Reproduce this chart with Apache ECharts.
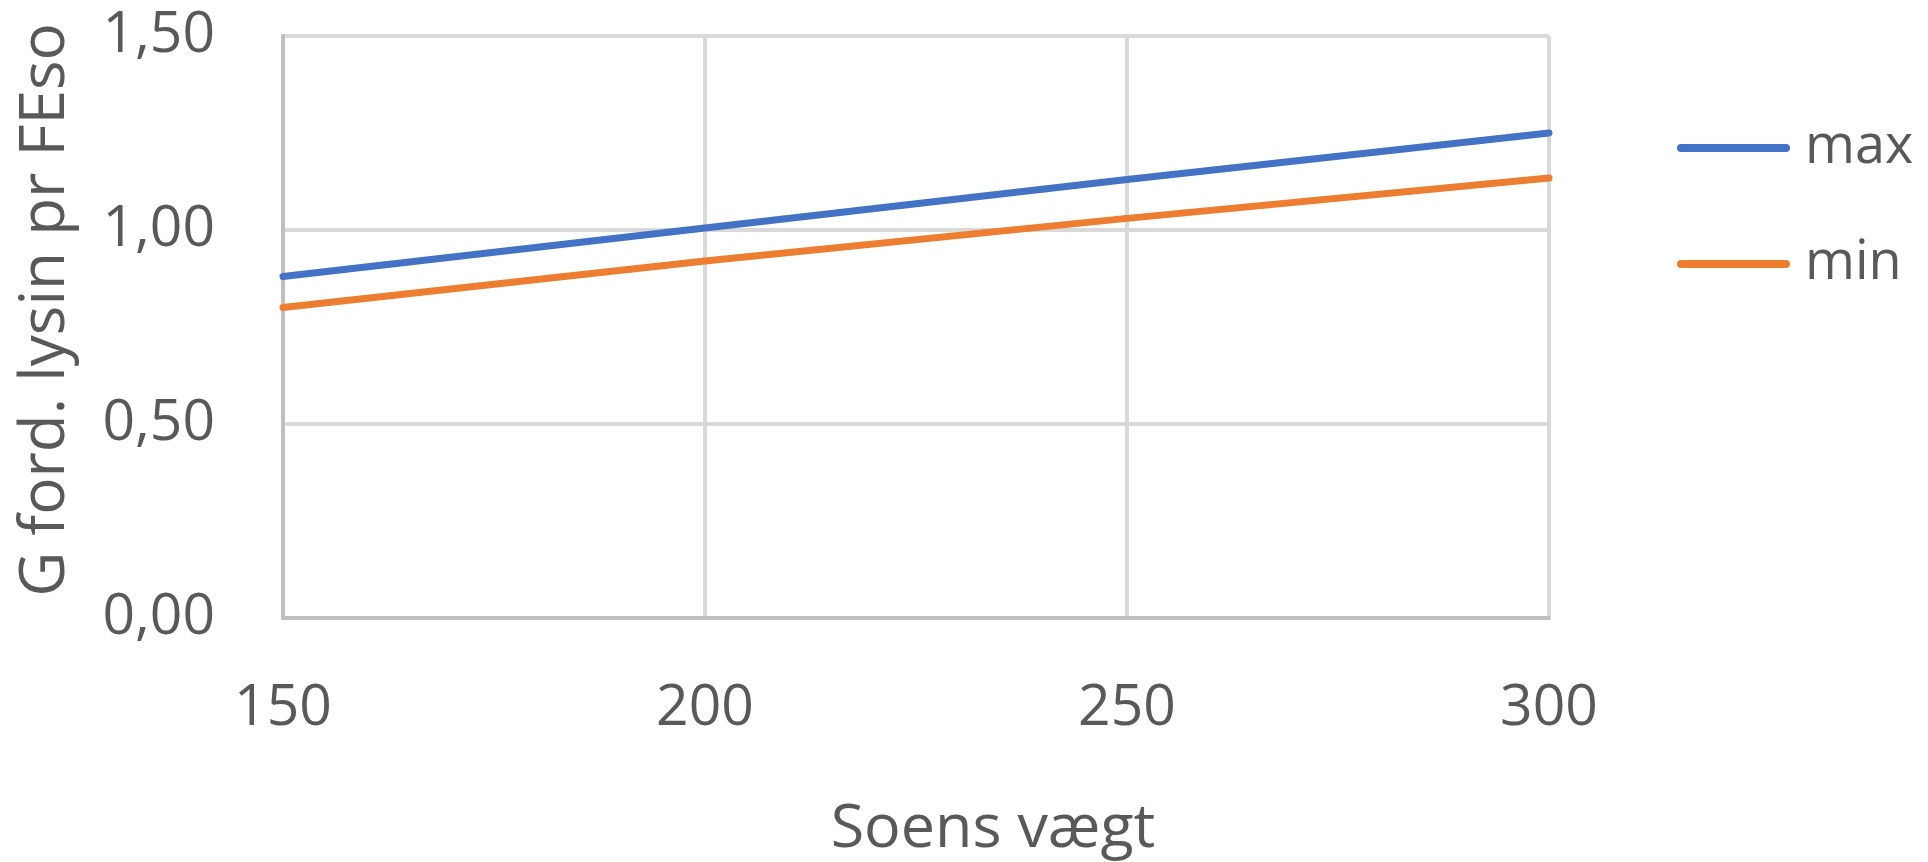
<!DOCTYPE html>
<html>
<head>
<meta charset="utf-8">
<script src="https://cdn.jsdelivr.net/npm/echarts@6/dist/echarts.min.js"></script>
<style>
  html, body { margin: 0; padding: 0; background: #ffffff; }
  #chart { width: 1928px; height: 862px; }
</style>
</head>
<body>
<div id="chart"></div>
<script>
// Sow weight (kg) on the x axis
const weights = [150, 200, 250, 300];
// Grams digestible lysine per feed unit
const maxValues = [0.88, 1.005, 1.13, 1.25];
const minValues = [0.80, 0.92, 1.03, 1.134];
const seriesNames = ['max', 'min'];
const xTicks = { min: 150, max: 300, step: 50 };
const yTicks = { min: 0, max: 1.5, step: 0.5 };
const xAxisTitle = 'Soens vægt';
const yAxisTitle = 'G ford. lysin pr FEso';

const FONT = '"Open Sans", "DejaVu Sans", sans-serif';
const TEXT = '#595959';

const pairs = vals => weights.map((w, i) => [w, vals[i]]);

const chart = echarts.init(document.getElementById('chart'));
chart.setOption({
  backgroundColor: '#ffffff',
  animation: false,
  textStyle: { fontFamily: FONT },
  title: {
    text: xAxisTitle,
    left: 988,
    top: 794,
    textAlign: 'center',
    textStyle: { fontFamily: FONT, fontSize: 61, fontWeight: 'normal', color: TEXT }
  },
  grid: { left: 283, right: 379, top: 36, bottom: 244, containLabel: false },
  legend: {
    orient: 'vertical',
    left: 1672,
    top: 113,
    itemWidth: 113,
    itemHeight: 8,
    itemGap: 56,
    icon: 'path://M4,0 H109 A4,4 0 0 1 109,8 H4 A4,4 0 0 1 4,0 Z',
    textStyle: { fontFamily: FONT, fontSize: 54, color: TEXT, lineHeight: 60, padding: [0, 0, 0, 10] },
    data: seriesNames
  },
  xAxis: {
    type: 'value',
    min: xTicks.min,
    max: xTicks.max,
    interval: xTicks.step,
    axisLine: { show: true, lineStyle: { color: '#bfbfbf', width: 4 } },
    axisTick: { show: false },
    axisLabel: { fontFamily: FONT, fontSize: 57, color: TEXT, margin: 62 },
    splitLine: { show: true, lineStyle: { color: '#d9d9d9', width: 4 } }
  },
  yAxis: {
    type: 'value',
    min: yTicks.min,
    max: yTicks.max,
    interval: yTicks.step,
    name: yAxisTitle,
    nameLocation: 'middle',
    nameGap: 206,
    nameTextStyle: { fontFamily: FONT, fontSize: 62, color: TEXT, padding: [0, 0, 0, 34] },
    axisLine: { show: true, lineStyle: { color: '#bfbfbf', width: 4 } },
    axisTick: { show: false },
    axisLabel: {
      fontFamily: FONT, fontSize: 57, color: TEXT, margin: 68,
      formatter: v => v.toFixed(2).replace('.', ',')
    },
    splitLine: { show: true, lineStyle: { color: '#d9d9d9', width: 4 } }
  },
  series: [
    {
      name: seriesNames[0],
      type: 'line',
      data: pairs(maxValues),
      showSymbol: false,
      symbol: 'none',
      color: '#4472c4',
      lineStyle: { width: 7, color: '#4472c4', cap: 'round' }
    },
    {
      name: seriesNames[1],
      type: 'line',
      data: pairs(minValues),
      showSymbol: false,
      symbol: 'none',
      color: '#ed7d31',
      lineStyle: { width: 7, color: '#ed7d31', cap: 'round' }
    }
  ]
});
</script>
</body>
</html>
